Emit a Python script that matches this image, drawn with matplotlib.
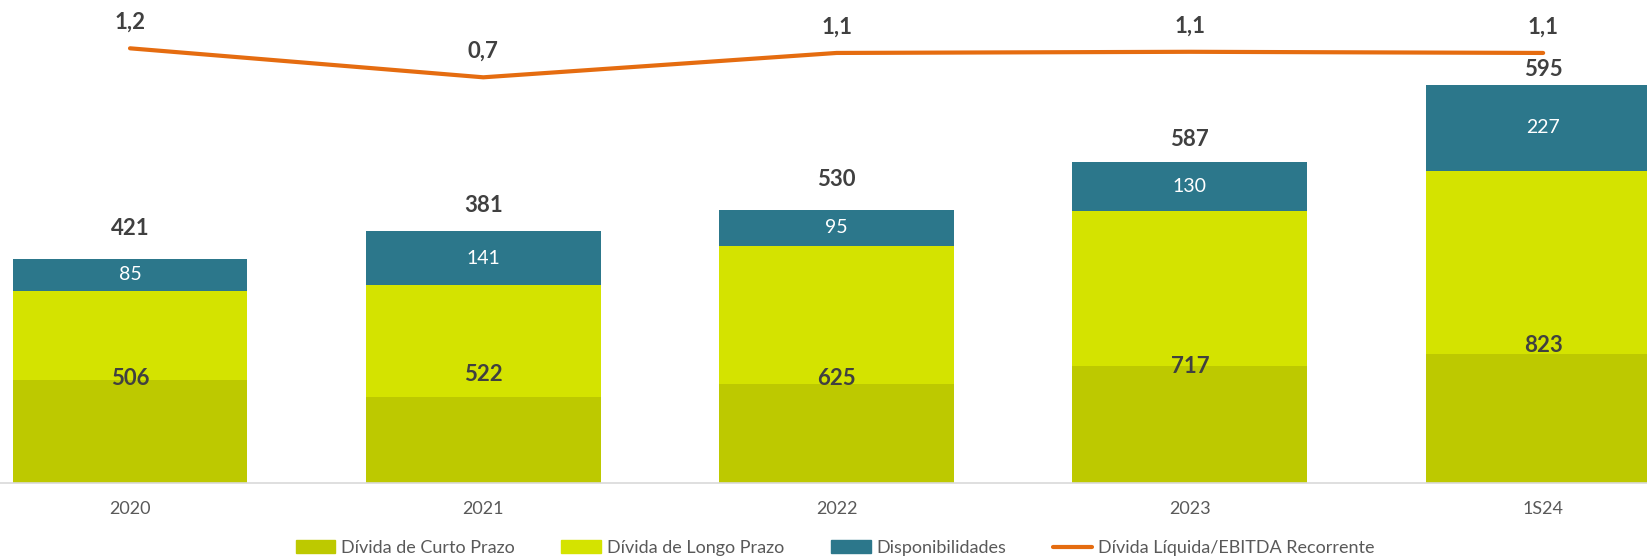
import matplotlib.pyplot as plt
from matplotlib.patches import Patch
from matplotlib.lines import Line2D

periodos = ["2020", "2021", "2022", "2023", "1S24"]
curto_prazo = [271, 227, 260, 308, 340]
longo_prazo = [235, 295, 365, 409, 483]
divida_total = [506, 522, 625, 717, 823]
disponibilidades = [85, 141, 95, 130, 227]
divida_liquida = [421, 381, 530, 587, 595]
alavancagem = [1.2, 0.7, 1.12, 1.14, 1.12]

# offsets (px) used to nudge the labels like in the original
off_liquida = [30, 26, 30, 22, 15]
off_total = [2, 22, 6, 0, 8]

c_curto = "#BDC900"
c_longo = "#D4E300"
c_disp = "#2C778B"
c_linha = "#E56C10"
c_txt = "#404040"
c_cinza = "#595959"

plt.rcParams["font.family"] = ["Lato", "DejaVu Sans"]

fig = plt.figure(figsize=(16.47, 5.58), dpi=100)
ax = fig.add_axes([0, 75 / 558, 1, 483 / 558])
x = range(len(periodos))
w = 0.665

ax.bar(x, curto_prazo, w, color=c_curto, edgecolor="none")
ax.bar(x, longo_prazo, w, bottom=curto_prazo, color=c_longo, edgecolor="none")
ax.bar(x, disponibilidades, w, bottom=divida_total, color=c_disp, edgecolor="none")

px2pt = 72 / 100
for i in x:
    topo = divida_total[i] + disponibilidades[i]
    ax.annotate(str(divida_liquida[i]), (i, topo), xytext=(0, off_liquida[i] * px2pt),
                textcoords="offset points", ha="center", va="center",
                fontsize=16, fontweight="bold", color=c_txt)
    ax.annotate(str(divida_total[i]), (i, curto_prazo[i]), xytext=(0, off_total[i] * px2pt),
                textcoords="offset points", ha="center", va="center",
                fontsize=16, fontweight="bold", color=c_txt)
    ax.text(i, divida_total[i] + disponibilidades[i] / 2, str(disponibilidades[i]),
            ha="center", va="center", fontsize=14, color="white",
            bbox=dict(boxstyle="square,pad=0.25", fc=c_disp, ec="none"))

ax.set_xlim(-0.368, 4.294)
ax.set_ylim(0, 1273)
ax.set_xticks(list(x))
ax.set_xticklabels(periodos, fontsize=13, color=c_cinza)
ax.tick_params(axis="x", length=0, pad=13)
ax.set_yticks([])
for s in ["top", "left", "right"]:
    ax.spines[s].set_visible(False)
ax.spines["bottom"].set_color("#D9D9D9")
ax.spines["bottom"].set_linewidth(1.2)

ax2 = ax.twinx()
ax2.plot(list(x), alavancagem, color=c_linha, lw=3, solid_capstyle="round", solid_joinstyle="miter")
for i in x:
    ax2.annotate(f"{alavancagem[i]:.1f}".replace(".", ","), (i, alavancagem[i]),
                 xytext=(0, 26 * px2pt), textcoords="offset points", ha="center",
                 va="center", fontsize=16, fontweight="bold", color=c_txt)
ax2.set_ylim(-6.295, 2.033)
ax2.set_yticks([])
for s in ax2.spines.values():
    s.set_visible(False)

handles = [
    Patch(color=c_curto, label="Dívida de Curto Prazo"),
    Patch(color=c_longo, label="Dívida de Longo Prazo"),
    Patch(color=c_disp, label="Disponibilidades"),
    Line2D([], [], color=c_linha, lw=3, solid_capstyle="round", label="Dívida Líquida/EBITDA Recorrente"),
]
fig.legend(handles=handles, loc="center", bbox_to_anchor=(0.507, 1 - 548 / 558), ncol=4,
           frameon=False, fontsize=13, labelcolor=c_cinza, handlelength=2.2,
           handleheight=0.7, handletextpad=0.3, columnspacing=2.6)

fig.savefig("out.png", dpi=100)
plt.close(fig)
